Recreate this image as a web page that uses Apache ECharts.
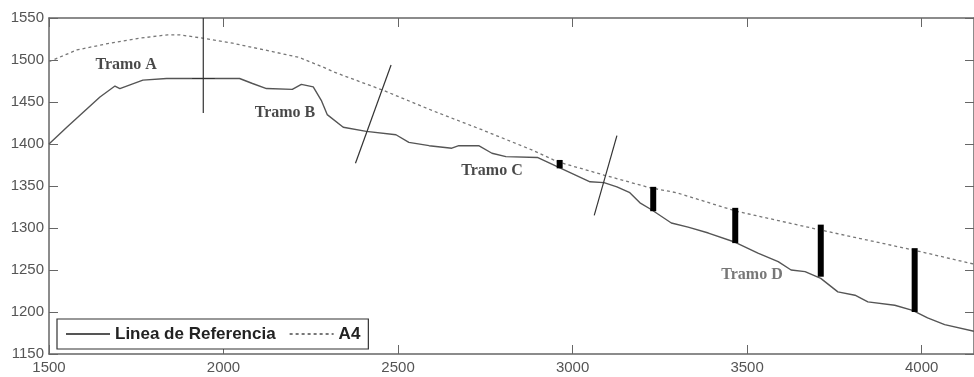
<!DOCTYPE html>
<html>
<head>
<meta charset="utf-8">
<script src="https://cdn.jsdelivr.net/npm/echarts@6/dist/echarts.min.js"></script>
<style>
  html, body { margin: 0; padding: 0; background: #fff; }
  #main { width: 974px; height: 377px; }
</style>
</head>
<body>
<div id="main"></div>
<script type="text/javascript">
    // Linea de Referencia (solid)
    var refX = [1500, 1551, 1646, 1689, 1703, 1769, 1837, 2046, 2083, 2123, 2197, 2223, 2257, 2280, 2297,
                2343, 2409, 2494, 2531, 2589, 2654, 2674, 2731, 2769, 2809, 2899, 2956, 3050, 3090, 3127,
                3164, 3193, 3225, 3283, 3331, 3389, 3466, 3531, 3589, 3626, 3666, 3711, 3760, 3809, 3846,
                3923, 3974, 4017, 4066, 4150];
    var refY = [1400, 1420, 1456, 1469, 1466, 1476, 1478, 1478, 1472, 1466, 1465, 1471, 1468, 1452, 1435,
                1420, 1415, 1411, 1402, 1398, 1395, 1398, 1398, 1389, 1385, 1384, 1373, 1355, 1354, 1349,
                1342, 1330, 1322, 1306, 1301, 1294, 1283, 1270, 1260, 1250, 1248, 1240, 1224, 1220, 1212,
                1208, 1202, 1193, 1185, 1177];

    // A4 (dashed)
    var a4X = [1500, 1580, 1674, 1760, 1840, 1874, 1940, 2026, 2140, 2217, 2294, 2314, 2457, 2597, 2740,
               2883, 2956, 3090, 3221, 3298, 3469, 3706, 3974, 4150];
    var a4Y = [1498, 1512, 1520, 1526, 1530, 1530, 1526, 1520, 1510, 1503, 1490, 1486, 1464, 1440, 1417,
               1393, 1379, 1363, 1348, 1342, 1320, 1298, 1274, 1257];

    // thick black bars between the two lines
    var barX    = [2963, 3231, 3466, 3711, 3980];
    var barLow  = [1371, 1320, 1282, 1242, 1200];
    var barHigh = [1381, 1349, 1324, 1304, 1276];

    // cross at the end of Tramo A
    var crossV = [[1942, 1437], [1942, 1550]];
    var crossH = [[1910, 1478], [1975, 1478]];

    // section dividers
    var div1 = [[2378, 1377], [2480, 1494]];
    var div2 = [[3062, 1315], [3127, 1410]];

    // section labels
    var tramoNames = ['Tramo A', 'Tramo B', 'Tramo C', 'Tramo D'];
    var tramoX = [1721, 2176, 2769, 3514];
    var tramoY = [1494, 1437, 1368, 1244];

    var xTicks = [1500, 2000, 2500, 3000, 3500, 4000];
    var yTicks = [1150, 1200, 1250, 1300, 1350, 1400, 1450, 1500, 1550];

    function zip(a, b) {
        return a.map(function (v, i) { return [v, b[i]]; });
    }
    function plain(v) { return String(v); }

    var axisCol = '#666';
    var series = [
        {
            name: 'Linea de Referencia',
            type: 'line',
            symbol: 'none',
            data: zip(refX, refY),
            lineStyle: { color: '#555', width: 1.4 },
            itemStyle: { color: '#555' },
            z: 3
        },
        {
            name: 'A4',
            type: 'line',
            symbol: 'none',
            data: zip(a4X, a4Y),
            lineStyle: { color: '#777', width: 1.3, type: [3, 3] },
            itemStyle: { color: '#777' },
            z: 3
        }
    ];

    barX.forEach(function (x, i) {
        series.push({
            type: 'line', symbol: 'none', silent: true,
            data: [[x, barLow[i]], [x, barHigh[i]]],
            lineStyle: { color: '#000', width: 6, cap: 'butt' },
            z: 4
        });
    });

    [crossV, crossH, div1, div2].forEach(function (seg) {
        series.push({
            type: 'line', symbol: 'none', silent: true,
            data: seg,
            lineStyle: { color: '#333', width: 1.2 },
            z: 4
        });
    });

    series.push({
        type: 'scatter',
        symbolSize: 0,
        silent: true,
        data: tramoNames.map(function (n, i) {
            return { name: n, value: [tramoX[i], tramoY[i]],
                     label: { color: i === 3 ? '#555' : '#1a1a1a' } };
        }),
        label: {
            show: true,
            position: 'inside',
            formatter: '{b}',
            fontFamily: 'Liberation Serif',
            fontWeight: 'bold',
            fontSize: 16
        },
        z: 5
    });

    var myChart = echarts.init(document.getElementById('main'));
    var option = {
        animation: false,
        backgroundColor: '#fff',
        grid: { left: 49, right: -5, top: 18, bottom: 23 },
        legend: {
            data: ['Linea de Referencia', 'A4'],
            left: 57,
            top: 319,
            padding: [6, 8, 6, 8],
            itemWidth: 44,
            itemHeight: 14,
            itemGap: 13,
            borderColor: '#333',
            borderWidth: 1.2,
            backgroundColor: '#fff',
            itemStyle: { opacity: 0 },
            textStyle: { fontFamily: 'Liberation Sans', fontWeight: 'bold', fontSize: 17, lineHeight: 18, color: '#222' }
        },
        xAxis: [
            {
                type: 'value', min: xTicks[0], max: 4150, interval: 500,
                axisLine: { show: true, lineStyle: { color: axisCol, width: 1.5 } },
                axisTick: { inside: true, length: 9, lineStyle: { color: axisCol } },
                axisLabel: { showMaxLabel: false, margin: 6, formatter: plain, fontFamily: 'Liberation Sans', fontSize: 15, color: '#555' },
                splitLine: { show: false }
            },
            {
                type: 'value', position: 'top', min: xTicks[0], max: 4150, interval: 500,
                axisLine: { show: true, lineStyle: { color: axisCol, width: 1.5 } },
                axisTick: { inside: true, length: 9, lineStyle: { color: axisCol } },
                axisLabel: { show: false },
                splitLine: { show: false }
            }
        ],
        yAxis: [
            {
                type: 'value', min: yTicks[0], max: yTicks[yTicks.length - 1], interval: 50,
                axisLine: { show: true, lineStyle: { color: axisCol, width: 1.5 } },
                axisTick: { show: true, inside: true, length: 9, lineStyle: { color: axisCol } },
                axisLabel: { margin: 5, formatter: plain, fontFamily: 'Liberation Sans', fontSize: 15, color: '#555' },
                splitLine: { show: false }
            },
            {
                type: 'value', position: 'right', min: yTicks[0], max: yTicks[yTicks.length - 1], interval: 50,
                axisLine: { show: true, lineStyle: { color: axisCol, width: 1.5 } },
                axisTick: { show: true, inside: true, length: 9, lineStyle: { color: axisCol } },
                axisLabel: { show: false },
                splitLine: { show: false }
            }
        ],
        series: series
    };
    myChart.setOption(option);
</script>
</body>
</html>
